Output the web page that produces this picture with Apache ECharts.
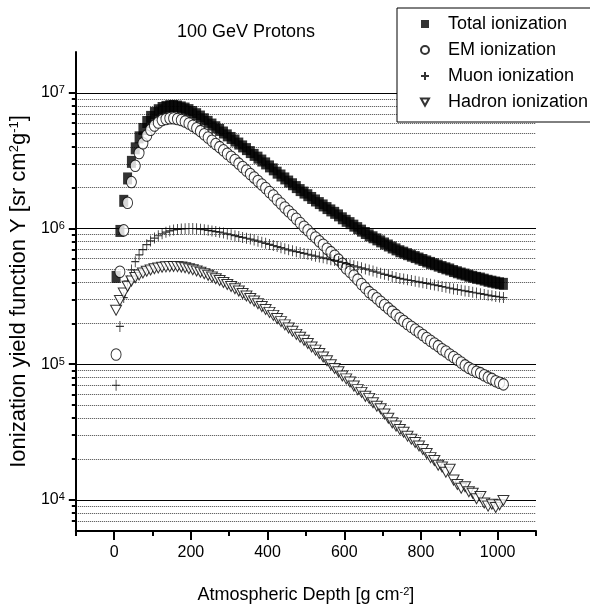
<!DOCTYPE html>
<html><head><meta charset="utf-8">
<script src="https://cdn.jsdelivr.net/npm/echarts@6/dist/echarts.min.js"></script>
<style>html,body{margin:0;padding:0;background:#fff}#c{width:590px;height:609px}</style>
</head><body><div id="c"></div>
<script>
const depth = [5,15,25,35,45,55,65,75,85,95,105,115,125,135,145,155,165,175,185,195,205,215,225,235,245,255,265,275,285,295,305,315,325,335,345,355,365,375,385,395,405,415,425,435,445,455,465,475,485,495,505,515,525,535,545,555,565,575,585,595,605,615,625,635,645,655,665,675,685,695,705,715,725,735,745,755,765,775,785,795,805,815,825,835,845,855,865,875,885,895,905,915,925,935,945,955,965,975,985,995,1005,1015];
const totalIon = [4.4e5,9.6e5,1.6e6,2.34e6,3.1e6,3.9e6,4.7e6,5.42e6,6.1e6,6.65e6,
7.1e6,7.45e6,7.73e6,7.88e6,7.98e6,8.0e6,7.93e6,7.81e6,7.66e6,7.46e6,
7.22e6,6.96e6,6.69e6,6.39e6,6.11e6,5.84e6,5.58e6,5.33e6,5.1e6,4.86e6,
4.65e6,4.45e6,4.23e6,4.03e6,3.85e6,3.66e6,3.49e6,3.33e6,3.17e6,3.02e6,
2.87e6,2.73e6,2.58e6,2.46e6,2.34e6,2.22e6,2.12e6,2.02e6,1.92e6,1.84e6,
1.76e6,1.68e6,1.61e6,1.54e6,1.48e6,1.415e6,1.36e6,1.305e6,1.25e6,1.19e6,
1.14e6,1.096e6,1.05e6,1.007e6,9.65e5,9.27e5,8.91e5,8.62e5,8.32e5,8.04e5,
7.76e5,7.5e5,7.25e5,7.02e5,6.8e5,6.64e5,6.47e5,6.31e5,6.16e5,6.01e5,
5.86e5,5.72e5,5.58e5,5.46e5,5.33e5,5.2e5,5.09e5,4.99e5,4.86e5,4.76e5,
4.66e5,4.58e5,4.49e5,4.41e5,4.33e5,4.28e5,4.2e5,4.12e5,4.06e5,4.0e5,
3.95e5,3.91e5];
const emIon = [1.18e5,4.8e5,9.7e5,1.55e6,2.2e6,2.9e6,3.6e6,4.25e6,4.85e6,5.35e6,
5.75e6,6.05e6,6.3e6,6.42e6,6.5e6,6.5e6,6.42e6,6.3e6,6.15e6,5.95e6,
5.72e6,5.48e6,5.22e6,4.95e6,4.69e6,4.44e6,4.2e6,3.98e6,3.77e6,3.56e6,
3.38e6,3.2e6,3.01e6,2.84e6,2.68e6,2.52e6,2.38e6,2.24e6,2.11e6,1.99e6,
1.86e6,1.75e6,1.63e6,1.53e6,1.43e6,1.34e6,1.26e6,1.18e6,1.10e6,1.03e6,
9.7e5,9.1e5,8.6e5,8.05e5,7.6e5,7.1e5,6.7e5,6.3e5,5.9e5,5.5e5,
5.1e5,4.8e5,4.5e5,4.2e5,3.9e5,3.65e5,3.4e5,3.24e5,3.06e5,2.89e5,
2.73e5,2.58e5,2.44e5,2.31e5,2.18e5,2.08e5,1.98e5,1.89e5,1.8e5,1.72e5,
1.64e5,1.56e5,1.49e5,1.42e5,1.36e5,1.29e5,1.24e5,1.18e5,1.13e5,1.08e5,
1.03e5,9.8e4,9.4e4,9.1e4,8.8e4,8.6e4,8.3e4,8.0e4,7.8e4,7.5e4,
7.3e4,7.1e4];
const muonIon = [7.0e4,1.9e5,3.1e5,4.1e5,4.95e5,5.7e5,6.4e5,7.0e5,7.6e5,8.1e5,
8.5e5,8.85e5,9.15e5,9.4e5,9.6e5,9.75e5,9.85e5,9.92e5,9.97e5,1.0e6,
1.0e6,9.97e5,9.9e5,9.8e5,9.7e5,9.6e5,9.5e5,9.4e5,9.27e5,9.13e5,
9.0e5,8.86e5,8.72e5,8.6e5,8.48e5,8.36e5,8.22e5,8.07e5,7.92e5,7.78e5,
7.64e5,7.5e5,7.36e5,7.23e5,7.1e5,6.97e5,6.85e5,6.75e5,6.66e5,6.56e5,
6.46e5,6.36e5,6.26e5,6.17e5,6.08e5,5.99e5,5.9e5,5.82e5,5.72e5,5.62e5,
5.52e5,5.42e5,5.32e5,5.22e5,5.13e5,5.04e5,4.95e5,4.86e5,4.77e5,4.68e5,
4.6e5,4.52e5,4.44e5,4.36e5,4.29e5,4.24e5,4.19e5,4.14e5,4.09e5,4.04e5,
3.99e5,3.94e5,3.89e5,3.84e5,3.79e5,3.74e5,3.69e5,3.64e5,3.59e5,3.55e5,
3.51e5,3.47e5,3.43e5,3.39e5,3.35e5,3.31e5,3.27e5,3.23e5,3.19e5,3.16e5,
3.13e5,3.1e5];
const hadronIon = [2.5e5,2.95e5,3.35e5,3.75e5,4.1e5,4.35e5,4.55e5,4.7e5,4.85e5,4.95e5,
5.05e5,5.12e5,5.18e5,5.22e5,5.24e5,5.25e5,5.24e5,5.2e5,5.14e5,5.06e5,
4.97e5,4.87e5,4.76e5,4.64e5,4.52e5,4.4e5,4.27e5,4.14e5,4.0e5,3.87e5,
3.74e5,3.6e5,3.46e5,3.32e5,3.18e5,3.05e5,2.92e5,2.79e5,2.66e5,2.53e5,
2.41e5,2.29e5,2.17e5,2.06e5,1.95e5,1.85e5,1.75e5,1.66e5,1.58e5,1.5e5,
1.42e5,1.34e5,1.27e5,1.2e5,1.13e5,1.06e5,9.9e4,9.3e4,8.8e4,8.2e4,
7.8e4,7.4e4,6.9e4,6.5e4,6.2e4,5.8e4,5.6e4,5.2e4,4.9e4,4.7e4,
4.3e4,4.0e4,3.7e4,3.5e4,3.3e4,3.15e4,2.95e4,2.8e4,2.65e4,2.5e4,
2.35e4,2.2e4,2.05e4,1.95e4,1.8e4,1.75e4,1.6e4,1.68e4,1.4e4,1.3e4,
1.22e4,1.25e4,1.15e4,1.12e4,1.02e4,1.06e4,9.5e3,9.0e3,9.3e3,8.8e3,
9.2e3,9.9e3];
const seriesNames = ['Total ionization','EM ionization','Muon ionization','Hadron ionization'];
const xMajorTicks = [0,200,400,600,800,1000];
const xMinorTicks = [-100,100,300,500,700,900,1100];
const yMajorTicks = [1e4,1e5,1e6,1e7];
const yMinorTicks = [7e3,8e3,9e3,2e4,3e4,4e4,5e4,6e4,7e4,8e4,9e4,2e5,3e5,4e5,5e5,6e5,7e5,8e5,9e5,2e6,3e6,4e6,5e6,6e6,7e6,8e6,9e6];
const titleText = '100 GeV Protons';

const FONT = "'Liberation Sans', Arial, Helvetica, sans-serif";
const pts = arr => depth.map((d, i) => [d, arr[i]]);
const PLUS = 'path://M5,0L5,10M0,5L10,5';
const DOWN_TRI = 'path://M0,0L10,0L5,9Z';

const chart = echarts.init(document.getElementById('c'), null, {renderer: 'canvas'});
chart.setOption({
  animation: false,
  backgroundColor: '#fff',
  title: {
    text: titleText, left: 177, top: 23, padding: 0,
    textStyle: {fontSize: 18, fontWeight: 'normal', color: '#000', fontFamily: FONT}
  },
  legend: {
    data: [
      {name: seriesNames[0]},
      {name: seriesNames[1]},
      {name: seriesNames[2]},
      {name: seriesNames[3], icon: DOWN_TRI}
    ],
    orient: 'vertical', left: 397, top: 8,
    padding: [7, 30, 11, 23], itemGap: 8, itemWidth: 8, itemHeight: 8,
    backgroundColor: '#fff', borderColor: '#000', borderWidth: 1,
    selectedMode: false,
    textStyle: {fontSize: 18, color: '#000', fontFamily: FONT, padding: [0, 0, 0, 14]}
  },
  grid: {left: 73, right: 54, top: 52, bottom: 78},
  xAxis: [{
    type: 'value', min: -100, max: 1100, position: 'bottom',
    name: '{a|Atmospheric Depth [g cm}{s|-2}{a|]}', nameLocation: 'middle', nameGap: 55,
    nameTextStyle: {rich: {a: {fontSize: 18, color: '#000', fontFamily: FONT}, s: {fontSize: 11, color: '#000', fontFamily: FONT, verticalAlign: 'top'}}},
    axisLine: {onZero: false, lineStyle: {color: '#000', width: 2}},
    axisTick: {customValues: xMajorTicks, length: 9, lineStyle: {color: '#000', width: 2}},
    axisLabel: {customValues: xMajorTicks, margin: 14, fontSize: 16, color: '#000', fontFamily: FONT, formatter: v => String(v)},
    splitLine: {show: false}
  }, {
    type: 'value', min: -100, max: 1100, position: 'bottom',
    axisLine: {show: false, onZero: false},
    axisTick: {customValues: xMinorTicks, length: 5, lineStyle: {color: '#000', width: 2}},
    axisLabel: {show: false}, splitLine: {show: false}
  }],
  yAxis: [{
    type: 'log', logBase: 10, min: 5900, max: 2e7, position: 'left',
    name: '{a|Ionization yield function Y [sr cm}{s|2}{a|g}{s|-1}{a|]}', nameLocation: 'middle', nameGap: 40,
    nameTextStyle: {rich: {a: {fontSize: 22, color: '#000', fontFamily: FONT}, s: {fontSize: 13, color: '#000', fontFamily: FONT, verticalAlign: 'top'}}},
    axisLine: {onZero: false, lineStyle: {color: '#000', width: 2}},
    axisTick: {customValues: yMajorTicks, length: 7, lineStyle: {color: '#000', width: 2}},
    axisLabel: {
      customValues: yMajorTicks, margin: 11,
      formatter: v => '{b|10}{s|' + Math.round(Math.log10(v)) + '}',
      rich: {b: {fontSize: 16, color: '#000', fontFamily: FONT}, s: {fontSize: 11, color: '#000', fontFamily: FONT, verticalAlign: 'top'}}
    },
    splitLine: {show: true, lineStyle: {color: '#000', width: 1}}
  }, {
    type: 'log', logBase: 10, min: 5900, max: 2e7, position: 'left',
    axisLine: {show: false, onZero: false},
    axisTick: {customValues: yMinorTicks, length: 4, lineStyle: {color: '#000', width: 2}},
    axisLabel: {show: false},
    splitLine: {show: true, lineStyle: {color: '#444', width: 1, type: [1, 1]}}
  }],
  series: [{
    name: seriesNames[0], type: 'scatter', xAxisIndex: 0, yAxisIndex: 0, z: 2,
    symbol: 'rect', symbolSize: [9, 12], itemStyle: {color: '#000'},
    data: pts(totalIon)
  }, {
    name: seriesNames[1], type: 'scatter', xAxisIndex: 0, yAxisIndex: 0, z: 3,
    symbol: 'circle', symbolSize: [10, 11.5], itemStyle: {color: '#fff', borderColor: '#000', borderWidth: 1},
    data: pts(emIon)
  }, {
    name: seriesNames[2], type: 'scatter', xAxisIndex: 0, yAxisIndex: 0, z: 4,
    symbol: PLUS, symbolSize: [8, 11],
    itemStyle: {color: 'transparent', borderColor: '#000', borderWidth: 1},
    data: pts(muonIon)
  }, {
    name: seriesNames[3], type: 'scatter', xAxisIndex: 0, yAxisIndex: 0, z: 5,
    symbol: 'triangle', symbolRotate: 180, symbolSize: [11, 10],
    itemStyle: {color: '#fff', borderColor: '#000', borderWidth: 1},
    data: pts(hadronIon)
  }]
});
</script></body></html>
